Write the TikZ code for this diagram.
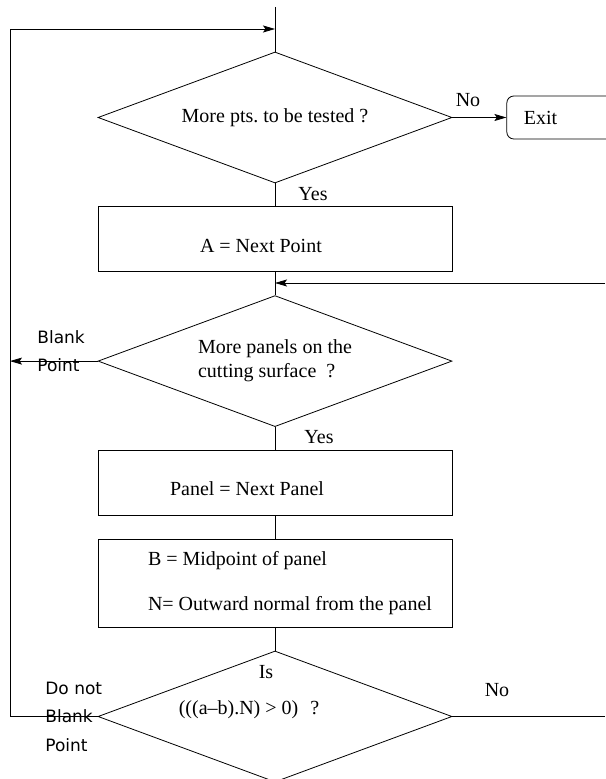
\documentclass[tikz,border=0pt]{standalone}
\usepackage{fontspec}
\setmainfont{Liberation Serif}
\newfontfamily\sidefont{DejaVu Sans}
\usepackage{tikz}
\usetikzlibrary{shapes,arrows,arrows.meta,positioning}
\frenchspacing

\begin{document}
\begin{tikzpicture}[x=0.5pt, y=-0.5pt, node distance = 11.5pt, auto]

    \tikzstyle{decision} = [
        diamond,
        draw,
        aspect=2.7,
        inner sep=0pt,
        minimum width=177pt,
        minimum height=65.5pt,
        align=flush left,
    ]
    \tikzstyle{block} = [
        rectangle,
        draw,
        inner xsep=0pt,
        text width=177pt,
        align=flush left,
        minimum height=32.5pt,
    ]
    \tikzstyle{exitbox} = [
        rectangle,
        draw,
        rounded corners=3.5pt,
        inner xsep=8.5pt,
        text width=50pt,
        align=flush left,
        minimum height=21.5pt,
    ]
    \tikzstyle{side} = [
        inner sep=0pt,
        align=left,
        font=\sidefont\fontsize{8.5}{14.25}\selectfont,
    ]
    \tikzstyle{line} = [
        draw,
        -{Stealth[length=6pt, width=3.5pt, inset=1.2pt]},
    ]

    \useasboundingbox (0,0) rectangle (605,779);

    \coordinate (start) at (275,7);
    \coordinate (back) at (10,29);
    \coordinate (again) at (605,283);

    \node [decision] (more) at (275,117.5) {More pts. to be tested ?};
    \node [exitbox, right=27pt of more] (exit) {Exit};
    \node [block, text height=12.8pt, text depth=0pt, below=of more] (next) {\hspace*{51pt}A = Next Point};
    \node [decision, below=of next] (panels) {More panels on the\\cutting surface~ ?};
    \node [block, text height=12.8pt, text depth=0pt, below=of panels] (panel) {\hspace*{36pt}Panel = Next Panel};
    \node [block, minimum height=44pt, below=of panel] (mid) {
        \hspace*{25pt}B = Midpoint of panel\\[10.5pt]
        \hspace*{25pt}N= Outward normal from the panel
    };
    \node [decision, below=of mid] (sign) {};
    \node [xshift=-4.5pt, yshift=22pt] (is) at (sign) {Is};
    \node [xshift=-13pt, yshift=3.25pt] (cond) at (sign) {(((a--b).N) > 0)\hspace{6pt}?};

    % yes / no labels
    \node (no1) at (468,100) {No};
    \node (yes1) at (313,194) {Yes};
    \node (yes2) at (319,437) {Yes};
    \node (no2) at (497,690) {No};
    \node [side, anchor=west] (blank) at (37,351) {Blank\\Point};
    \node [side, anchor=west] (keep) at (45,716.5) {Do not\\Blank\\Point};

    \draw (start) -- (more.north);
    \path [line] (more.east) -- (exit.west);
    \draw (more.south) -- (next.north);
    \draw (next.south) -- (panels.north);
    \path [line] (again) -- (again -| panels.north);
    \path [line] (panels.west) -- (panels.west -| back);
    \draw (panels.south) -- (panel.north);
    \draw (panel.south) -- (mid.north);
    \draw (mid.south) -- (sign.north);
    \path [line] (sign.west) -| (back) -- (back -| more.north);
    \draw (sign.east) -- (sign.east -| again);

\end{tikzpicture}
\end{document}
